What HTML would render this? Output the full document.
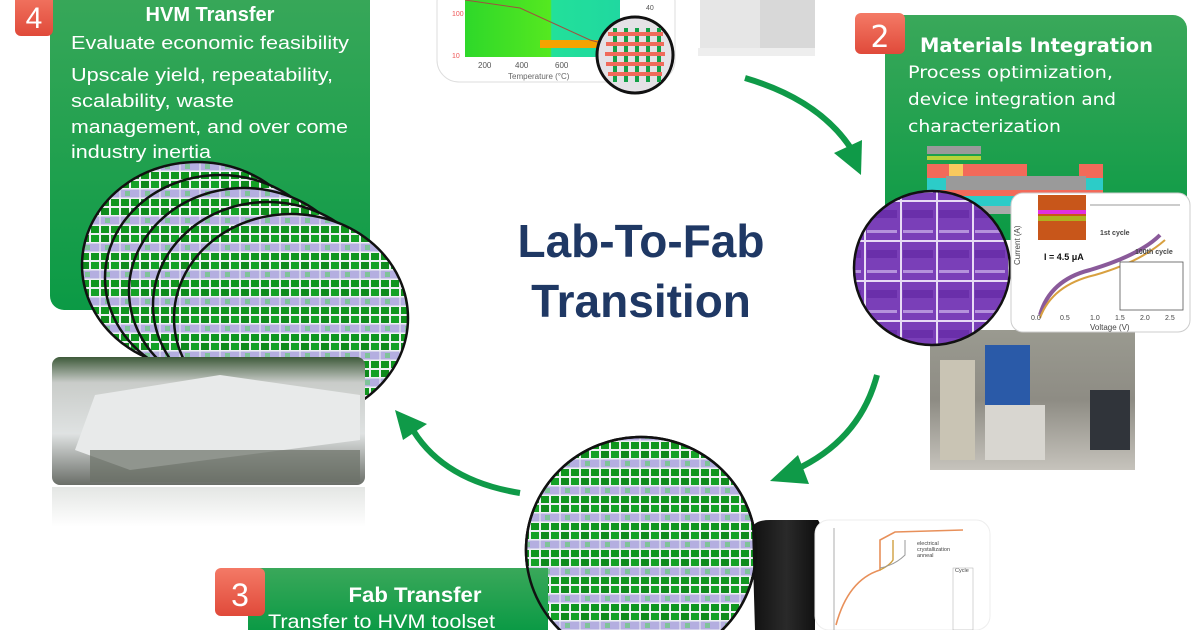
<!DOCTYPE html>
<html><head><meta charset="utf-8"><style>
html,body{margin:0;padding:0;background:#fff;width:1200px;height:630px;overflow:hidden}
svg{display:block}
</style></head><body>
<svg width="1200" height="630" viewBox="0 0 1200 630" xmlns="http://www.w3.org/2000/svg">
<defs>
<pattern id="wg" width="20" height="27" patternUnits="userSpaceOnUse">
<rect width="20" height="27" fill="#eef0f4"/>
<rect x="0.5" y="0.5" width="19" height="8" fill="#b4aee0"/>
<rect x="5" y="2" width="5" height="5" fill="#7fc39a"/>
<rect x="1" y="10" width="8" height="7" fill="#10951f"/>
<rect x="11" y="10" width="8" height="7" fill="#10951f"/>
<rect x="1" y="19" width="8" height="7" fill="#0f8a1c"/>
<rect x="11" y="19" width="8" height="7" fill="#14a126"/>
</pattern>
<pattern id="wp" width="36" height="40" patternUnits="userSpaceOnUse">
<rect width="36" height="40" fill="#7a3fb8"/>
<rect x="0" y="0" width="36" height="2" fill="#e8dcf5"/>
<rect x="0" y="0" width="2" height="40" fill="#e8dcf5"/>
<rect x="3" y="30" width="30" height="3" fill="#b592dc"/>
<rect x="3" y="10" width="30" height="8" fill="#6a2faa"/>
</pattern>
<linearGradient id="gb" x1="0" y1="0" x2="0" y2="1"><stop offset="0" stop-color="#3aa85a"/><stop offset="1" stop-color="#0b9a45"/></linearGradient>
<linearGradient id="plot" x1="0" y1="0" x2="1" y2="0"><stop offset="0" stop-color="#2ed82a"/><stop offset="0.55" stop-color="#55e820"/><stop offset="0.56" stop-color="#22e09a"/><stop offset="1" stop-color="#20d8a0"/></linearGradient>
<linearGradient id="fab" x1="0" y1="0" x2="0" y2="1"><stop offset="0" stop-color="#3e5a3a"/><stop offset="0.2" stop-color="#c9ccc9"/><stop offset="0.6" stop-color="#dfe2e2"/><stop offset="1" stop-color="#6a6e68"/></linearGradient>
<linearGradient id="refl" x1="0" y1="0" x2="0" y2="1"><stop offset="0" stop-color="#e4e6e4"/><stop offset="1" stop-color="#fff"/></linearGradient>
<linearGradient id="eq" x1="0" y1="0" x2="0" y2="1"><stop offset="0" stop-color="#9a9a90"/><stop offset="0.5" stop-color="#8e8c84"/><stop offset="1" stop-color="#c6c3bc"/></linearGradient>
<linearGradient id="blk" x1="0" y1="0" x2="1" y2="0"><stop offset="0" stop-color="#111"/><stop offset="0.5" stop-color="#2a2a2a"/><stop offset="1" stop-color="#0c0c0c"/></linearGradient>
<linearGradient id="red" x1="0" y1="0" x2="0" y2="1"><stop offset="0" stop-color="#f47a66"/><stop offset="1" stop-color="#e04a3a"/></linearGradient>
<clipPath id="frame"><rect width="1200" height="630"/></clipPath>
</defs>
<g clip-path="url(#frame)">
<!-- top chart -->
<rect x="437" y="-20" width="238" height="102" rx="22" fill="#fff" stroke="#ddd"/>
<rect x="465" y="0" width="155" height="57" fill="url(#plot)"/>
<rect x="540" y="40" width="80" height="8" fill="#f5a300"/>
<path d="M465 0 L520 8 L590 40 L620 48" stroke="#a05040" fill="none"/>
<text x="478" y="68" font-family="Liberation Sans,sans-serif" font-size="8" fill="#555">200</text>
<text x="515" y="68" font-family="Liberation Sans,sans-serif" font-size="8" fill="#555">400</text>
<text x="555" y="68" font-family="Liberation Sans,sans-serif" font-size="8" fill="#555">600</text>
<text x="508" y="79" font-family="Liberation Sans,sans-serif" font-size="8" fill="#666">Temperature (°C)</text>
<text x="452" y="16" font-family="Liberation Sans,sans-serif" font-size="7" fill="#e55">100</text>
<text x="452" y="58" font-family="Liberation Sans,sans-serif" font-size="7" fill="#e55">10</text>
<text x="646" y="10" font-family="Liberation Sans,sans-serif" font-size="7" fill="#555">40</text>
<circle cx="635" cy="55" r="38" fill="#e4e2e6" stroke="#111" stroke-width="3"/>
<g fill="#13a046"><rect x="613" y="28" width="4" height="54"/><rect x="624" y="28" width="4" height="54"/><rect x="635" y="28" width="4" height="54"/><rect x="646" y="28" width="4" height="54"/><rect x="657" y="28" width="4" height="54"/></g>
<g fill="#f06a5a"><rect x="608" y="32" width="55" height="4"/><rect x="606" y="42" width="58" height="4"/><rect x="605" y="52" width="60" height="4"/><rect x="606" y="62" width="58" height="4"/><rect x="608" y="72" width="54" height="4"/></g>

<!-- top equipment -->
<rect x="700" y="0" width="115" height="50" fill="#d8d8d8"/>
<rect x="700" y="0" width="60" height="50" fill="#e6e6e6"/>
<rect x="698" y="48" width="117" height="8" fill="#eee"/>

<!-- arrows -->
<g fill="#0f9a48" stroke="none">
<path d="M745 78 Q820 100 852 150" stroke="#0f9a48" stroke-width="6" fill="none"/>
<polygon points="834,153 862,140 861,175"/>
<path d="M877 375 Q860 440 795 470" stroke="#0f9a48" stroke-width="6" fill="none"/>
<polygon points="798,455 809,484 770,481"/>
<path d="M520 493 Q440 480 410 425" stroke="#0f9a48" stroke-width="6" fill="none"/>
<polygon points="395,410 427,424 403,440"/>
</g>

<!-- Box 4 -->
<rect x="50" y="-20" width="320" height="330" rx="14" fill="url(#gb)"/>
<rect x="15" y="-10" width="38" height="46" rx="6" fill="url(#red)"/>
<text x="34" y="28" text-anchor="middle" font-family="Liberation Sans,sans-serif" font-size="30" fill="#fff">4</text>
<g font-family="Liberation Sans,sans-serif" fill="#fff">
<text x="210" y="21" text-anchor="middle" font-size="20" font-weight="bold">HVM Transfer</text>
<text x="71" y="49" font-size="18.5" textLength="278" lengthAdjust="spacingAndGlyphs">Evaluate economic feasibility</text>
<text x="71" y="81" font-size="18.5" textLength="262" lengthAdjust="spacingAndGlyphs">Upscale yield, repeatability,</text>
<text x="71" y="107" font-size="18.5" textLength="163" lengthAdjust="spacingAndGlyphs">scalability, waste</text>
<text x="71" y="133" font-size="18.5" textLength="277" lengthAdjust="spacingAndGlyphs">management, and over come</text>
<text x="71" y="158" font-size="18.5" textLength="140" lengthAdjust="spacingAndGlyphs">industry inertia</text>
</g>

<!-- stacked wafers -->
<g stroke="#111" stroke-width="2.5" fill="url(#wg)">
<ellipse cx="197" cy="265" rx="115" ry="103"/>
<ellipse cx="220" cy="278" rx="115" ry="103"/>
<ellipse cx="244" cy="291" rx="115" ry="103"/>
<ellipse cx="268" cy="305" rx="115" ry="103"/>
<ellipse cx="291" cy="318" rx="117" ry="104"/>
</g>

<!-- fab photo -->
<rect x="52" y="357" width="313" height="128" rx="8" fill="url(#fab)"/>
<polygon points="95,395 220,375 360,395 360,440 130,470 75,450" fill="#e8eaea"/>
<rect x="90" y="450" width="270" height="32" fill="#6b7066" opacity="0.7"/>
<rect x="52" y="487" width="313" height="40" fill="url(#refl)"/>

<!-- Center title -->
<g font-family="Liberation Sans,sans-serif" font-weight="bold" fill="#1f3864" text-anchor="middle">
<text x="641" y="257" font-size="46">Lab-To-Fab</text>
<text x="641" y="317" font-size="46">Transition</text>
</g>

<!-- Box 2 -->
<rect x="885" y="15" width="302" height="225" rx="14" fill="url(#gb)"/>
<rect x="855" y="13" width="50" height="41" rx="6" fill="url(#red)"/>
<text x="880" y="47" text-anchor="middle" font-family="DejaVu Sans,sans-serif" font-size="30" fill="#fff">2</text>
<g font-family="DejaVu Sans,sans-serif" fill="#fff">
<text x="920" y="52" font-size="19.5" font-weight="bold" textLength="233" lengthAdjust="spacingAndGlyphs">Materials Integration</text>
<text x="908" y="78" font-size="17" textLength="205" lengthAdjust="spacingAndGlyphs">Process optimization,</text>
<text x="908" y="105" font-size="17" textLength="208" lengthAdjust="spacingAndGlyphs">device integration and</text>
<text x="908" y="132" font-size="17" textLength="153" lengthAdjust="spacingAndGlyphs">characterization</text>
</g>
<rect x="927" y="146" width="54" height="8" fill="#9a9a9a"/>
<rect x="927" y="156" width="54" height="4" fill="#b7d33a"/>
<rect x="927" y="164" width="100" height="14" fill="#f26a5a"/>
<rect x="949" y="164" width="14" height="14" fill="#f8c95e"/>
<rect x="1079" y="164" width="24" height="14" fill="#f26a5a"/>
<rect x="927" y="178" width="176" height="12" fill="#2cccc8"/>
<rect x="946" y="176" width="140" height="20" fill="#9a9a9a"/>
<rect x="927" y="190" width="176" height="6" fill="#f26a5a"/>
<rect x="927" y="196" width="176" height="10" fill="#2cccc8"/>
<rect x="927" y="206" width="176" height="8" fill="#aaa"/>

<!-- equipment photo -->
<rect x="930" y="330" width="205" height="140" fill="url(#eq)"/>
<rect x="985" y="345" width="45" height="60" fill="#2a5aa8"/>
<rect x="985" y="405" width="60" height="55" fill="#d8d6d0"/>
<rect x="1090" y="390" width="40" height="60" fill="#30343a"/>
<rect x="940" y="360" width="35" height="100" fill="#c9c4b4"/>

<!-- purple wafer -->
<ellipse cx="932" cy="268" rx="78" ry="77" fill="url(#wp)" stroke="#111" stroke-width="2.5"/>

<!-- IV chart -->
<rect x="1011" y="193" width="179" height="139" rx="12" fill="#fff" stroke="#ccc"/>
<rect x="1038" y="195" width="48" height="45" fill="#c8561a"/>
<rect x="1038" y="210" width="48" height="4" fill="#e030e0"/>
<rect x="1038" y="216" width="48" height="5" fill="#b0b020"/>
<path d="M1040 315 Q1050 280 1090 270 Q1140 255 1160 235" stroke="#8a5a9a" stroke-width="4" fill="none"/>
<path d="M1040 318 Q1052 285 1095 275 Q1140 262 1165 240" stroke="#d8a040" stroke-width="2" fill="none"/>
<line x1="1090" y1="205" x2="1180" y2="205" stroke="#999"/>
<rect x="1120" y="262" width="63" height="48" fill="#fff" stroke="#555" stroke-width="0.8"/>
<g font-family="Liberation Sans,sans-serif" font-size="7" fill="#444">
<text x="1044" y="260" font-size="9" font-weight="bold" fill="#111">I = 4.5 μA</text>
<text x="1100" y="235" font-weight="bold">1st cycle</text>
<text x="1135" y="254" font-weight="bold">100th cycle</text>
<text x="1031" y="320">0.0</text><text x="1060" y="320">0.5</text><text x="1090" y="320">1.0</text><text x="1115" y="320">1.5</text><text x="1140" y="320">2.0</text><text x="1165" y="320">2.5</text>
<text x="1090" y="330" font-size="8">Voltage (V)</text>
<text x="1020" y="265" font-size="8" transform="rotate(-90 1020 265)">Current (A)</text>
</g>

<!-- bottom wafer -->
<ellipse cx="641" cy="550" rx="115" ry="113" fill="url(#wg)" stroke="#111" stroke-width="2.5"/>

<!-- black object -->
<path d="M752 528 Q755 520 770 520 L818 520 Q825 530 815 550 L815 630 L755 630 Z" fill="url(#blk)"/>

<!-- bottom chart -->
<rect x="815" y="520" width="175" height="110" rx="14" fill="#fff" stroke="#eee"/>
<line x1="834" y1="528" x2="834" y2="630" stroke="#999" stroke-width="0.8"/>
<path d="M836 625 Q848 580 880 570 L880 540 L895 532 L963 530" stroke="#e8905a" stroke-width="1.6" fill="none"/>
<path d="M880 570 Q890 565 893 560 L893 540" stroke="#d0a040" stroke-width="1.4" fill="none"/>
<path d="M880 568 Q895 565 905 555 L905 540" stroke="#999" stroke-width="1" fill="none"/>
<g font-family="Liberation Sans,sans-serif" font-size="5.5" fill="#444">
<text x="917" y="545">electrical</text><text x="917" y="551">crystallization</text><text x="917" y="557">anneal</text>
<text x="955" y="572">Cycle</text>
</g>
<rect x="953" y="568" width="20" height="62" fill="none" stroke="#aaa" stroke-width="0.5"/>

<!-- Box 3 -->
<rect x="248" y="568" width="300" height="62" fill="url(#gb)"/>
<rect x="215" y="568" width="50" height="48" rx="6" fill="url(#red)"/>
<text x="240" y="606" text-anchor="middle" font-family="Liberation Sans,sans-serif" font-size="32" fill="#fff">3</text>
<g font-family="Liberation Sans,sans-serif" fill="#fff">
<text x="415" y="602" text-anchor="middle" font-size="21" font-weight="bold" textLength="133" lengthAdjust="spacingAndGlyphs">Fab Transfer</text>
<text x="268" y="628" font-size="19" textLength="227" lengthAdjust="spacingAndGlyphs">Transfer to HVM  toolset</text>
</g>
<ellipse cx="641" cy="550" rx="115" ry="113" fill="none" stroke="#111" stroke-width="2.5"/>
</g>
</svg>
</body></html>
